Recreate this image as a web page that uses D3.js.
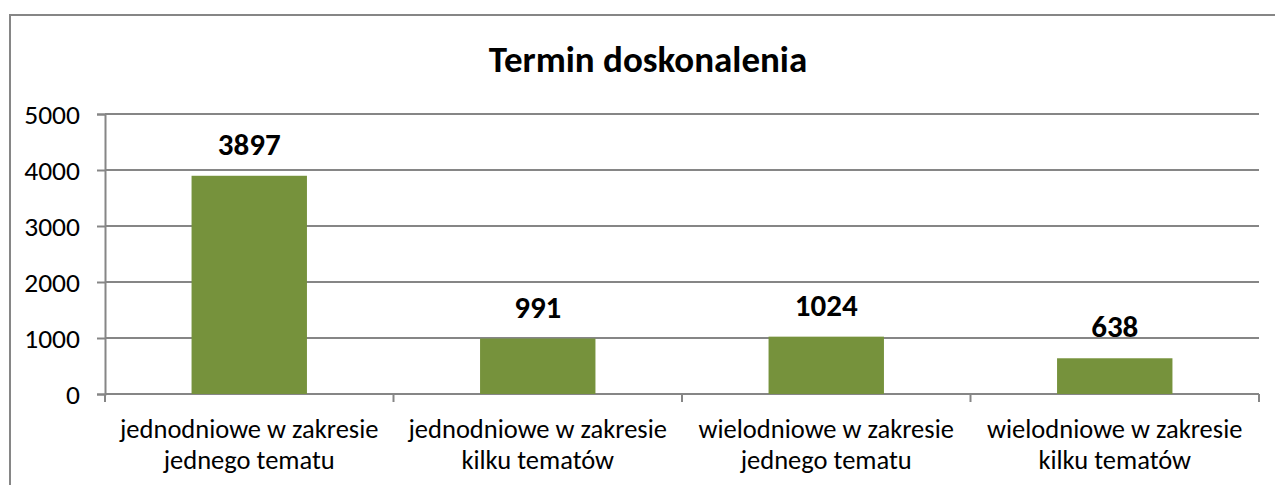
<!DOCTYPE html>
<html>
<head>
<meta charset="utf-8">
<script src="https://cdn.jsdelivr.net/npm/d3@7"></script>
<style>
  body { margin: 0; background: #fff; }
  text { font-family: Carlito, Calibri, Lato, sans-serif; fill: #000; }
</style>
</head>
<body>
<div id="graf"></div>
<script>
const categorias = [
    ['jednodniowe w zakresie', 'jednego tematu'],
    ['jednodniowe w zakresie', 'kilku tematów'],
    ['wielodniowe w zakresie', 'jednego tematu'],
    ['wielodniowe w zakresie', 'kilku tematów'],
]
const valores = [3897, 991, 1024, 638]
const ticksY = [0, 1000, 2000, 3000, 4000, 5000]
const titulo = 'Termin doskonalenia'

const ancho = 1275
const alto = 485
const gris = '#868686'

const svg = d3.select('#graf').append('svg')
    .attr('width', ancho)
    .attr('height', alto)

// marco del grafico
svg.append('rect')
    .attr('x', 10).attr('y', 15)
    .attr('width', 1275).attr('height', 500)
    .attr('fill', 'none')
    .attr('stroke', gris)
    .attr('stroke-width', 2)

svg.append('text')
    .attr('x', 648).attr('y', 72)
    .attr('text-anchor', 'middle')
    .attr('font-size', 37)
    .attr('font-weight', 'bold')
    .text(titulo)

const izq = 105, der = 1259, arriba = 114, abajo = 394

const x = d3.scaleBand()
    .domain(d3.range(valores.length))
    .range([izq, der])
    .paddingInner(0.6)
    .paddingOuter(0.3)

const y = d3.scaleLinear()
    .domain([0, 5000])
    .range([abajo, arriba])

// lineas de cuadricula
svg.append('g')
    .selectAll('line')
    .data(ticksY)
    .enter()
    .append('line')
    .attr('x1', izq).attr('x2', der)
    .attr('y1', d => y(d)).attr('y2', d => y(d))
    .attr('stroke', gris)
    .attr('stroke-width', 2)

// eje Y
const ejeY = svg.append('g')
    .attr('transform', `translate(${izq},0)`)
    .call(d3.axisLeft(y).tickValues(ticksY).tickSize(8).tickPadding(17).tickFormat(d3.format('d')))
ejeY.select('.domain').attr('stroke', gris).attr('stroke-width', 2)
ejeY.selectAll('.tick line').attr('stroke', gris).attr('stroke-width', 2)
ejeY.selectAll('.tick text').attr('font-size', 27.5).attr('font-family', null).attr('dy', '0.35em')

// ticks del eje X (entre categorias)
const paso = (der - izq) / valores.length
svg.append('g')
    .selectAll('line')
    .data(d3.range(valores.length + 1))
    .enter()
    .append('line')
    .attr('x1', i => izq + i * paso).attr('x2', i => izq + i * paso)
    .attr('y1', abajo).attr('y2', abajo + 8)
    .attr('stroke', gris)
    .attr('stroke-width', 2)

// barras
svg.append('g')
    .selectAll('rect')
    .data(valores)
    .enter()
    .append('rect')
    .attr('x', (d, i) => x(i))
    .attr('y', d => y(d))
    .attr('width', x.bandwidth())
    .attr('height', d => abajo - y(d))
    .attr('fill', '#76923C')

// etiquetas de datos
svg.append('g')
    .selectAll('text')
    .data(valores)
    .enter()
    .append('text')
    .attr('x', (d, i) => x(i) + x.bandwidth() / 2)
    .attr('y', d => y(d) - 21)
    .attr('text-anchor', 'middle')
    .attr('font-size', 31)
    .attr('font-weight', 'bold')
    .text(d => d)

// nombres de categorias
const cat = svg.append('g')
    .selectAll('text')
    .data(categorias)
    .enter()
    .append('text')
    .attr('text-anchor', 'middle')
    .attr('font-size', 26.5)

cat.selectAll('tspan')
    .data((d, i) => d.map(t => ({ t, i })))
    .enter()
    .append('tspan')
    .attr('x', d => x(d.i) + x.bandwidth() / 2)
    .attr('y', (d, j) => 438 + j * 31)
    .text(d => d.t)
</script>
</body>
</html>
